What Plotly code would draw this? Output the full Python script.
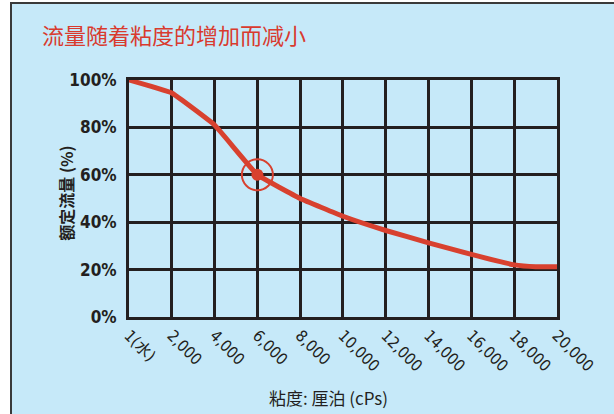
import plotly.graph_objects as go

RED = "#d8412f"
INK = "#231f20"
BG = "#c6e9f9"
FONT = "'Liberation Sans Narrow', 'DejaVu Sans Condensed', 'Noto Sans CJK SC', sans-serif"
CJK = "'Noto Sans CJK SC', sans-serif"

viscosity = [1, 2000, 4000, 6000, 8000, 10000, 12000, 14000, 16000, 18000, 19000, 20000]
flow_pct = [100, 94.5, 81, 60, 50, 42.5, 36.5, 31.3, 26.4, 22, 21.2, 21.2]

tick_vals = [1, 2000, 4000, 6000, 8000, 10000, 12000, 14000, 16000, 18000, 20000]
tick_text = ["1(水)", "2,000", "4,000", "6,000", "8,000", "10,000", "12,000",
             "14,000", "16,000", "18,000", "20,000"]
y_ticks = [0, 20, 40, 60, 80, 100]
y_text = ["0%", "20%", "40%", "60%", "80%", "100%"]

mark_x = [6000]
mark_y = [60]

fig = go.Figure()

fig.add_trace(go.Scatter(
    x=viscosity, y=flow_pct, mode="lines",
    line=dict(color=RED, width=5, shape="spline", smoothing=0.25),
    hoverinfo="skip", cliponaxis=False,
))
fig.add_trace(go.Scatter(
    x=mark_x, y=mark_y, mode="markers",
    marker=dict(size=12, color=RED),
    hoverinfo="skip", cliponaxis=False,
))
fig.add_trace(go.Scatter(
    x=mark_x, y=mark_y, mode="markers",
    marker=dict(size=31, color=RED, symbol="circle-open", line=dict(width=2)),
    hoverinfo="skip", cliponaxis=False,
))

# light blue panel with a dark frame on the top and left
fig.add_shape(type="rect", xref="paper", yref="paper",
              x0=-0.2757, x1=1.2, y0=-0.5, y1=1.3249,
              fillcolor=BG, line=dict(color="#3a3a3a", width=2), layer="below")

fig.add_annotation(text="流量随着粘度的增加而减小", xref="paper", yref="paper",
                   x=-0.208, y=1.195, xanchor="left", yanchor="middle", showarrow=False,
                   font=dict(family=CJK, size=22, color="#d93a2e"))
fig.add_annotation(text="粘度: 厘泊 (cPs)", xref="paper", yref="paper",
                   x=0.465, y=-0.338, xanchor="center", yanchor="middle", showarrow=False,
                   font=dict(family=CJK, size=17, color=INK))
fig.add_annotation(text="<b>额定流量 (%)</b>", xref="paper", yref="paper",
                   x=-0.148, y=0.523, xanchor="center", yanchor="middle", showarrow=False,
                   textangle=-90, font=dict(family=CJK, size=16, color=INK))

fig.update_layout(
    width=614, height=414,
    paper_bgcolor="white", plot_bgcolor="rgba(0,0,0,0)",
    margin=dict(l=129, r=57, t=80, b=97),
    showlegend=False,
    font=dict(family=FONT, color=INK),
)
fig.update_xaxes(
    range=[1, 20000], tickvals=tick_vals, ticktext=tick_text, tickangle=45,
    showgrid=True, gridcolor=INK, gridwidth=2.5, zeroline=False,
    showline=True, linecolor=INK, linewidth=3, mirror=True,
    ticks="", tickfont=dict(family=FONT, size=16, color=INK), automargin=False,
)
fig.update_yaxes(
    range=[0, 100], tickvals=y_ticks, ticktext=["<b>%s</b>" % t for t in y_text],
    showgrid=True, gridcolor=INK, gridwidth=2.5, zeroline=False,
    showline=True, linecolor=INK, linewidth=3, mirror=True,
    ticks="", ticklabelstandoff=6, tickfont=dict(family=FONT, size=17, color=INK),
    automargin=False,
)

fig.write_html("out.html", config={"displayModeBar": False},
               post_script="document.body.style.margin='0';")
